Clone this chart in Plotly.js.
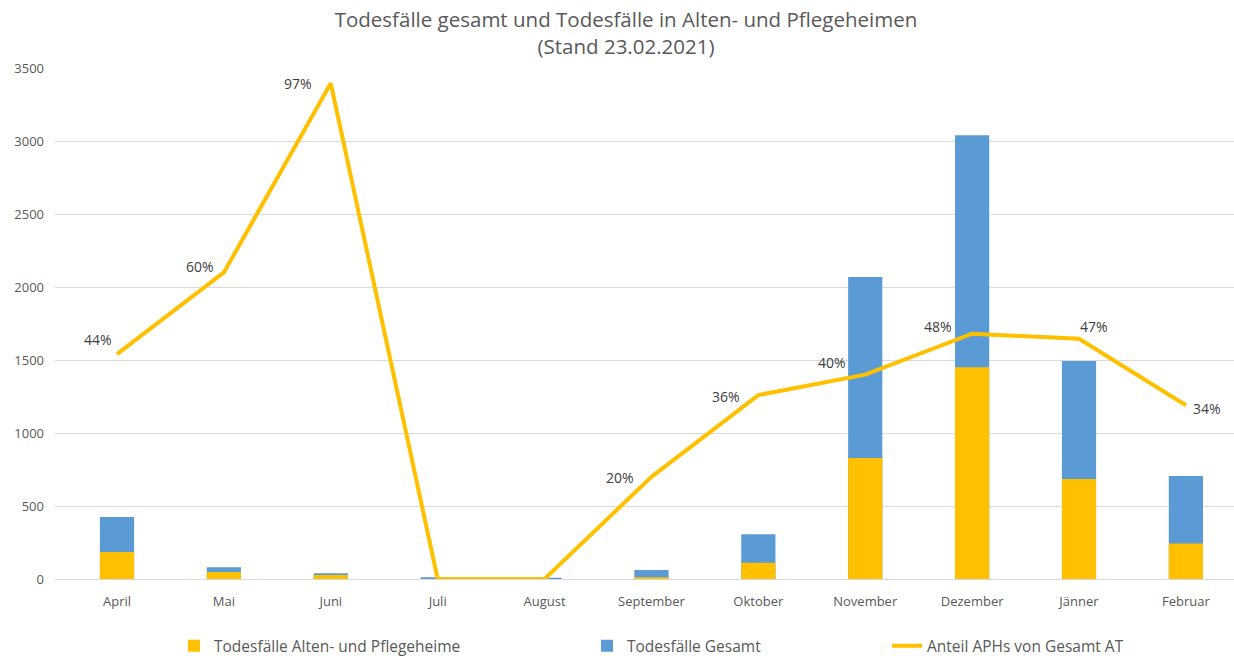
<!DOCTYPE html>
<html>
<head>
<meta charset="utf-8">
<script src="https://cdn.plot.ly/plotly-3.0.1.min.js"></script>
<style>html,body{margin:0;padding:0;background:#fff;}#chart{width:1234px;height:656px;}</style>
</head>
<body>
<div id="chart"></div>
<script>
const categories = ['April','Mai','Juni','Juli','August','September','Oktober','November','Dezember','Jänner','Februar'];
const todesfaelleGesamt = [425, 80, 39, 12, 9, 62, 306, 2068, 3039, 1493, 705];
const todesfaelleAPH = [185, 48, 27, 0, 0, 12, 112, 829, 1450, 685, 244];
const anteilAPH = [0.44, 0.60, 0.97, 0, 0, 0.20, 0.36, 0.40, 0.48, 0.47, 0.34];
const anteilLabels = ['44%','60%','97%','','','20%','36%','40%','48%','47%','34%'];
// label offsets in pixels (style only)
const labelShiftX = [-19, -24, -33, 0, 0, -31, -32, -33, -34, 15, 21];
const labelShiftY = [15, 6, 0, 0, 0, -1, -1, 12, 7, 12, -3];

const FONT = 'Open Sans, Noto Sans, sans-serif';
const GREY = '#595959';

const traces = [
  {
    type: 'bar', name: 'Todesfälle Gesamt', x: categories, y: todesfaelleGesamt,
    marker: {color: '#5B9BD5'}, width: 0.32, legend: 'legend2', hoverinfo: 'skip'
  },
  {
    type: 'bar', name: 'Todesfälle Alten- und Pflegeheime', x: categories, y: todesfaelleAPH,
    marker: {color: '#FFC000'}, width: 0.32, legend: 'legend', hoverinfo: 'skip'
  },
  {
    type: 'scatter', mode: 'lines', name: 'Anteil APHs von Gesamt AT', x: categories, y: anteilAPH,
    yaxis: 'y2', line: {color: '#FFC000', width: 4},
    legend: 'legend3', hoverinfo: 'skip', cliponaxis: false
  }
];

const annotations = [];
for (let i = 0; i < categories.length; i++) {
  if (!anteilLabels[i]) continue;
  annotations.push({
    x: categories[i], y: anteilAPH[i], xref: 'x', yref: 'y2',
    text: anteilLabels[i], showarrow: false,
    xshift: labelShiftX[i], yshift: labelShiftY[i],
    xanchor: 'center', yanchor: 'middle',
    font: {family: FONT, size: 14, color: '#404040'}
  });
}

const legendBase = {
  orientation: 'h', xref: 'container', yref: 'container', yanchor: 'middle', y: 0.015,
  xanchor: 'left', font: {family: FONT, size: 15.5, color: GREY}, bgcolor: 'rgba(0,0,0,0)'
};

const layout = {
  width: 1234, height: 656,
  paper_bgcolor: '#fff', plot_bgcolor: '#fff',
  margin: {l: 55, r: 0, t: 68, b: 77},
  barmode: 'overlay',
  showlegend: true,
  title: {
    text: 'Todesfälle gesamt und Todesfälle in Alten- und Pflegeheimen<br>(Stand 23.02.2021)',
    font: {family: FONT, size: 20.5, color: GREY},
    x: 626/1234, xanchor: 'center', xref: 'container', y: 1 - 27/656, yanchor: 'middle', yref: 'container'
  },
  annotations: annotations,
  xaxis: {
    type: 'category', range: [-0.58, 10.45], showgrid: false, showline: false, zeroline: false,
    ticks: '', tickfont: {family: FONT, size: 13, color: GREY}, ticklabelstandoff: 13
  },
  yaxis: {
    range: [0, 3500], dtick: 500, tick0: 0, showgrid: true, gridcolor: '#d9d9d9', gridwidth: 1,
    zeroline: true, zerolinecolor: '#d9d9d9', zerolinewidth: 1, showline: false, ticks: '',
    tickfont: {family: FONT, size: 13, color: GREY}, ticklabelstandoff: 10
  },
  yaxis2: {
    range: [0, 1], overlaying: 'y', side: 'right', visible: false, showgrid: false, zeroline: false
  },
  legend: Object.assign({}, legendBase, {x: 174/1234}),
  legend2: Object.assign({}, legendBase, {x: 587/1234}),
  legend3: Object.assign({}, legendBase, {x: 887/1234})
};

Plotly.newPlot('chart', traces, layout, {displayModeBar: false, staticPlot: true});
</script>
</body>
</html>
